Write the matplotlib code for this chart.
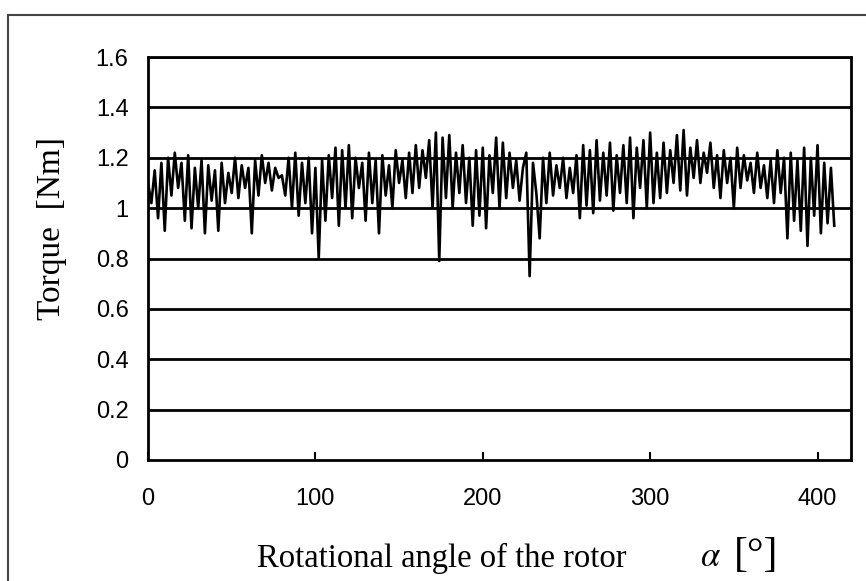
import numpy as np
import matplotlib
matplotlib.use("Agg")
import matplotlib.pyplot as plt
from matplotlib.lines import Line2D

# Rotational angle step (degrees) and torque values
angle_start = 0
angle_step = 2
torque = [
    1.10, 1.02, 1.15, 0.96, 1.18, 0.91, 1.20, 1.05, 1.22, 1.08,   # 0-18
    1.18, 0.95, 1.21, 0.92, 1.16, 1.00, 1.19, 0.90, 1.17, 1.03,   # 20-38
    1.15, 0.91, 1.18, 1.02, 1.14, 1.06, 1.20, 1.04, 1.17, 1.08,   # 40-58
    1.16, 0.90, 1.19, 1.05, 1.21, 1.10, 1.18, 1.07, 1.16, 1.12,   # 60-78
    1.13, 1.05, 1.20, 1.00, 1.22, 0.97, 1.18, 1.02, 1.20, 0.90,   # 80-98
    1.16, 0.80, 1.19, 0.95, 1.21, 1.04, 1.24, 0.93, 1.23, 1.00,   # 100-118
    1.25, 0.96, 1.20, 1.08, 1.18, 0.95, 1.22, 1.02, 1.19, 0.90,   # 120-138
    1.21, 1.05, 1.17, 1.00, 1.23, 1.10, 1.19, 1.04, 1.22, 1.06,   # 140-158
    1.25, 1.08, 1.23, 1.12, 1.27, 1.00, 1.30, 0.79, 1.28, 1.04,   # 160-178
    1.29, 1.00, 1.22, 1.06, 1.25, 1.02, 1.20, 0.93, 1.23, 0.97,   # 180-198
    1.24, 0.92, 1.21, 1.06, 1.28, 1.00, 1.26, 1.04, 1.22, 1.08,   # 200-218
    1.19, 1.03, 1.16, 1.22, 0.73, 1.18, 1.06, 0.88, 1.20, 1.02,   # 220-238
    1.22, 1.05, 1.17, 1.08, 1.20, 1.04, 1.16, 1.06, 1.21, 0.96,   # 240-258
    1.25, 1.01, 1.23, 0.98, 1.27, 1.03, 1.22, 1.05, 1.26, 0.99,   # 260-278
    1.21, 1.06, 1.25, 1.02, 1.28, 0.96, 1.24, 1.08, 1.27, 1.00,   # 280-298
    1.30, 1.02, 1.22, 1.04, 1.26, 1.06, 1.23, 1.10, 1.29, 1.07,   # 300-318
    1.31, 1.05, 1.24, 1.12, 1.27, 1.10, 1.22, 1.14, 1.26, 1.08,   # 320-338
    1.21, 1.04, 1.23, 1.10, 1.20, 1.00, 1.24, 1.08, 1.21, 1.11,   # 340-358
    1.18, 1.06, 1.22, 1.08, 1.17, 1.04, 1.19, 1.02, 1.23, 1.06,   # 360-378
    1.20, 0.88, 1.22, 0.95, 1.19, 0.91, 1.24, 0.85, 1.20, 0.97,   # 380-398
    1.25, 0.90, 1.18, 0.94, 1.16, 0.93,                           # 400-410
]
angle = [angle_start + angle_step * i for i in range(len(torque))]

x_ticks = [0, 100, 200, 300, 400]
y_ticks = [0, 0.2, 0.4, 0.6, 0.8, 1.0, 1.2, 1.4, 1.6]
y_ticklabels = ["0", "0.2", "0.4", "0.6", "0.8", "1", "1.2", "1.4", "1.6"]

W, H = 866, 581
fig = plt.figure(figsize=(W / 100, H / 100), dpi=100)
ax = fig.add_axes([148 / W, (H - 460) / H, (851 - 148) / W, (460 - 57) / H])

ax.plot(angle, torque, color="black", lw=1.9, zorder=3)

ax.set_xlim(0, 420)
ax.set_ylim(0, 1.6)
ax.set_xticks(x_ticks)
ax.set_yticks(y_ticks)
ax.set_yticklabels(y_ticklabels)
for yv in y_ticks[1:]:
    ax.axhline(yv, color="black", lw=2.0, zorder=2)

for s in ax.spines.values():
    s.set_color("black")
    s.set_linewidth(2.0)

ax.tick_params(axis="x", direction="in", length=6, width=1.5, pad=20)
ax.tick_params(axis="y", length=0, pad=14)
for lab in ax.get_xticklabels() + ax.get_yticklabels():
    lab.set_fontfamily("Liberation Sans")
    lab.set_fontsize(17)

# axis labels
fig.text(52 / W, 1 - 228 / H, "Torque  [Nm]", rotation=90, ha="center", va="center",
         family="Liberation Serif", fontsize=24)
fig.text(442 / W, 1 - 558 / H, "Rotational angle of the rotor", ha="center", va="center",
         family="Liberation Serif", fontsize=23.5)
fig.text(711 / W, 1 - 556 / H, r"$\alpha$", ha="center", va="center", fontsize=25,
         math_fontfamily="stix")
fig.text(756 / W, 1 - 556 / H, "[°]", ha="center", va="center",
         family="Liberation Serif", fontsize=30)

# outer frame
fig.add_artist(Line2D([8 / W, 8 / W], [0, 1 - 15 / H], transform=fig.transFigure,
                      color="#444444", lw=1.5))
fig.add_artist(Line2D([8 / W, 1.0], [1 - 15 / H, 1 - 15 / H], transform=fig.transFigure,
                      color="#444444", lw=1.5))

fig.savefig("out.png", dpi=100)
